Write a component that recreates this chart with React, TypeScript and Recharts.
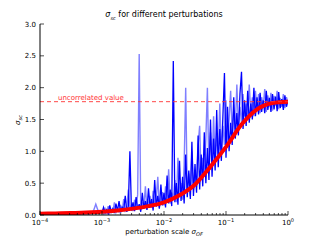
import React from 'react';
import { ComposedChart, Line, XAxis, YAxis, ReferenceLine } from 'recharts';

// exponent grid (log10 of perturbation scale) for the noisy runs
const coarseStart = -4; const coarseStep = 0.05; const coarseCount = 20;
const fineStart = -3; const fineStep = 0.025; const fineCount = 121;

const darkValues = [
  0.01,0.01,0.02,0.01,0.01,0.02,0.01,0.02,0.01,0.03,0.01,0.02,0.02,0.05,0.02,0.03,0.02,0.04,0.02,0.06,
  0.04,0.12,0.03,0.08,0.02,0.15,0.05,0.10,0.03,0.18,
  0.06,0.22,0.04,0.12,0.08,0.30,0.05,0.14,1.00,0.07,
  0.20,0.06,0.28,0.09,0.17,0.05,0.35,0.10,0.22,0.08,
  0.42,0.12,0.25,0.07,0.55,0.13,0.30,0.10,0.48,0.15,
  0.35,0.12,0.62,0.18,0.40,0.14,2.42,0.20,0.50,0.16,
  0.85,0.22,0.60,0.18,0.95,0.28,0.70,0.25,1.15,0.30,
  0.80,0.35,1.25,0.40,0.95,0.45,1.30,0.50,1.05,0.55,
  1.50,0.60,1.20,0.70,1.65,0.75,1.35,0.85,1.55,2.23,
  0.90,1.70,1.00,1.45,1.10,1.85,1.20,1.60,1.25,1.90,
  2.25,1.35,1.80,1.40,1.95,1.45,1.75,1.50,2.00,1.55,
  1.85,1.58,1.92,1.62,1.80,1.60,1.95,1.65,1.84,1.62,
  1.90,1.66,1.86,1.63,1.93,1.68,1.82,1.65,1.88,1.70,1.80,
];

const lightValues = [
  0.02,0.01,0.01,0.02,0.03,0.01,0.02,0.01,0.02,0.02,0.04,0.01,0.03,0.02,0.03,0.02,0.04,0.03,0.17,0.03,
  0.06,0.02,0.10,0.04,0.14,0.03,0.08,0.05,0.20,0.04,
  0.10,0.05,0.16,0.06,0.25,0.07,0.12,0.40,0.08,0.15,
  0.06,0.24,0.10,0.32,2.53,0.08,0.20,0.12,0.45,0.09,
  0.18,0.30,0.11,0.38,0.14,0.26,0.60,0.12,0.22,0.36,
  0.15,0.45,0.20,0.72,0.18,0.35,0.25,0.55,0.20,0.90,
  0.30,0.50,0.24,0.78,2.00,0.35,0.65,0.30,1.00,0.40,
  0.70,0.45,1.10,1.40,0.55,0.90,0.60,1.20,2.00,0.65,
  1.30,0.80,1.55,0.85,1.25,0.95,1.75,1.00,1.40,1.10,
  1.80,1.15,1.50,1.95,1.25,1.65,1.35,2.05,1.40,1.70,
  1.45,1.90,1.55,1.75,1.50,2.05,1.60,1.85,1.55,1.95,
  1.65,1.90,1.60,1.85,1.70,1.98,1.62,1.88,1.70,1.92,
  1.64,1.87,1.72,1.95,1.66,1.84,1.70,1.90,1.68,1.85,1.76,
];

const meanExponents = [-4,-3.75,-3.5,-3.25,-3,-2.75,-2.5,-2.25,-2,-1.75,-1.5,-1.25,-1,-0.75,-0.5,-0.25,0];
const meanValues = [0.02,0.025,0.03,0.04,0.05,0.07,0.10,0.14,0.20,0.31,0.48,0.76,1.07,1.42,1.66,1.76,1.78];

const uncorrelatedValue = 1.78;
const yTicks = [0, 0.5, 1.0, 1.5, 2.0, 2.5, 3.0];

const exps: number[] = [];
for (let i = 0; i < coarseCount; i++) exps.push(coarseStart + i * coarseStep);
for (let i = 0; i < fineCount; i++) exps.push(fineStart + i * fineStep);

const darkData = exps.map((e, i) => ({ x: Math.pow(10, e), y: darkValues[i] }));
const lightData = exps.map((e, i) => ({ x: Math.pow(10, e), y: lightValues[i] }));
const meanData = meanExponents.map((e, i) => ({ x: Math.pow(10, e), y: meanValues[i] }));

const allXTicks: number[] = [];
for (let d = -4; d <= 0; d++) {
  allXTicks.push(Math.pow(10, d));
  if (d < 0) for (let k = 2; k <= 9; k++) allXTicks.push(k * Math.pow(10, d));
}

const FONT = 'DejaVu Sans, sans-serif';
const isMajor = (v: number) => Math.abs(Math.log10(v) - Math.round(Math.log10(v))) < 1e-6;

const BottomTick = (props: any) => {
  const { x, y, payload } = props;
  const v = payload.value;
  const major = isMajor(v);
  const ex = Math.round(Math.log10(v));
  return (
    <g>
      <line x1={x} x2={x} y1={y} y2={y - (major ? 4 : 2)} stroke="#000" strokeWidth={0.7} />
      {major && (
        <text x={x} y={y + 10} textAnchor="middle" fontSize={7} fontFamily={FONT} fill="#000">
          10<tspan dy={-3} fontSize={5}>{ex < 0 ? '\u2212' + Math.abs(ex) : String(ex)}</tspan>
        </text>
      )}
    </g>
  );
};

const TopTick = (props: any) => {
  const { x, y, payload } = props;
  const major = isMajor(payload.value);
  return <line x1={x} x2={x} y1={y} y2={y + (major ? 4 : 2)} stroke="#000" strokeWidth={0.7} />;
};

const LeftTick = (props: any) => {
  const { x, y, payload } = props;
  return (
    <g>
      <line x1={x} x2={x + 4} y1={y} y2={y} stroke="#000" strokeWidth={0.7} />
      <text x={x - 4} y={y + 2.5} textAnchor="end" fontSize={7} fontFamily={FONT} fill="#000">
        {payload.value.toFixed(1)}
      </text>
    </g>
  );
};

const RightTick = (props: any) => {
  const { x, y } = props;
  return <line x1={x} x2={x - 4} y1={y} y2={y} stroke="#000" strokeWidth={0.7} />;
};

const RefLabel = (props: any) => {
  const vb = props.viewBox || {};
  return (
    <text x={(vb.x || 0) + 18} y={(vb.y || 0) - 2} fontSize={7} fontFamily={FONT} fill="#ff3333">
      uncorrelated value
    </text>
  );
};

export default function App() {
  return (
    <div style={{ position: 'fixed', left: 0, top: 0, width: 320, height: 240, background: '#fff' }}>
      <ComposedChart width={320} height={240} margin={{ top: 24, right: 32, bottom: 0, left: 0 }}>
        <XAxis
          dataKey="x" type="number" scale="log" domain={[1e-4, 1]} allowDataOverflow
          ticks={allXTicks} interval={0} tick={<BottomTick />} tickLine={false}
          tickSize={0} tickMargin={0} height={25} axisLine={{ stroke: '#000', strokeWidth: 1 }}
        />
        <XAxis
          xAxisId="top" orientation="top" dataKey="x" type="number" scale="log" domain={[1e-4, 1]}
          allowDataOverflow ticks={allXTicks} interval={0} tick={<TopTick />} tickLine={false}
          tickSize={0} tickMargin={0} height={0} axisLine={{ stroke: '#000', strokeWidth: 1 }}
        />
        <YAxis
          type="number" domain={[0, 3]} ticks={yTicks} interval={0} tick={<LeftTick />}
          tickLine={false} tickSize={0} tickMargin={0} width={40} allowDataOverflow
          axisLine={{ stroke: '#000', strokeWidth: 1 }}
        />
        <YAxis
          yAxisId="right" orientation="right" type="number" domain={[0, 3]} ticks={yTicks} interval={0}
          tick={<RightTick />} tickLine={false} tickSize={0} tickMargin={0} width={0}
          axisLine={{ stroke: '#000', strokeWidth: 1 }}
        />
        <Line data={lightData} dataKey="y" stroke="#0000ff" strokeOpacity={0.5} strokeWidth={1.4}
          dot={false} isAnimationActive={false} type="linear" />
        <Line data={darkData} dataKey="y" stroke="#0000ff" strokeWidth={1.3}
          dot={false} isAnimationActive={false} type="linear" />
        <Line data={meanData} dataKey="y" stroke="#ff0000" strokeWidth={4}
          dot={false} isAnimationActive={false} type="monotone" />
        <ReferenceLine y={uncorrelatedValue} stroke="#ff3333" strokeWidth={0.9} strokeDasharray="4 3"
          label={<RefLabel />} />
      </ComposedChart>
      <div style={{ position: 'absolute', left: 40, width: 248, top: 10, textAlign: 'center',
        fontFamily: FONT, fontSize: 8, lineHeight: '10px', color: '#000' }}>
        <i>σ</i><sub style={{ fontSize: 5 }}><i>sc</i></sub> for different perturbations
      </div>
      <div style={{ position: 'absolute', left: 40, width: 248, top: 227, textAlign: 'center',
        fontFamily: FONT, fontSize: 7, lineHeight: '10px', color: '#000' }}>
        perturbation scale <i>σ</i><sub style={{ fontSize: 5 }}><i>OF</i></sub>
      </div>
      <div style={{ position: 'absolute', left: 19, top: 120, width: 0, height: 0 }}>
        <div style={{ position: 'absolute', transform: 'translate(-50%, -50%) rotate(-90deg)',
          fontFamily: FONT, fontSize: 7, lineHeight: '10px', whiteSpace: 'nowrap', color: '#000' }}>
          <i>σ</i><sub style={{ fontSize: 5 }}><i>sc</i></sub>
        </div>
      </div>
    </div>
  );
}
